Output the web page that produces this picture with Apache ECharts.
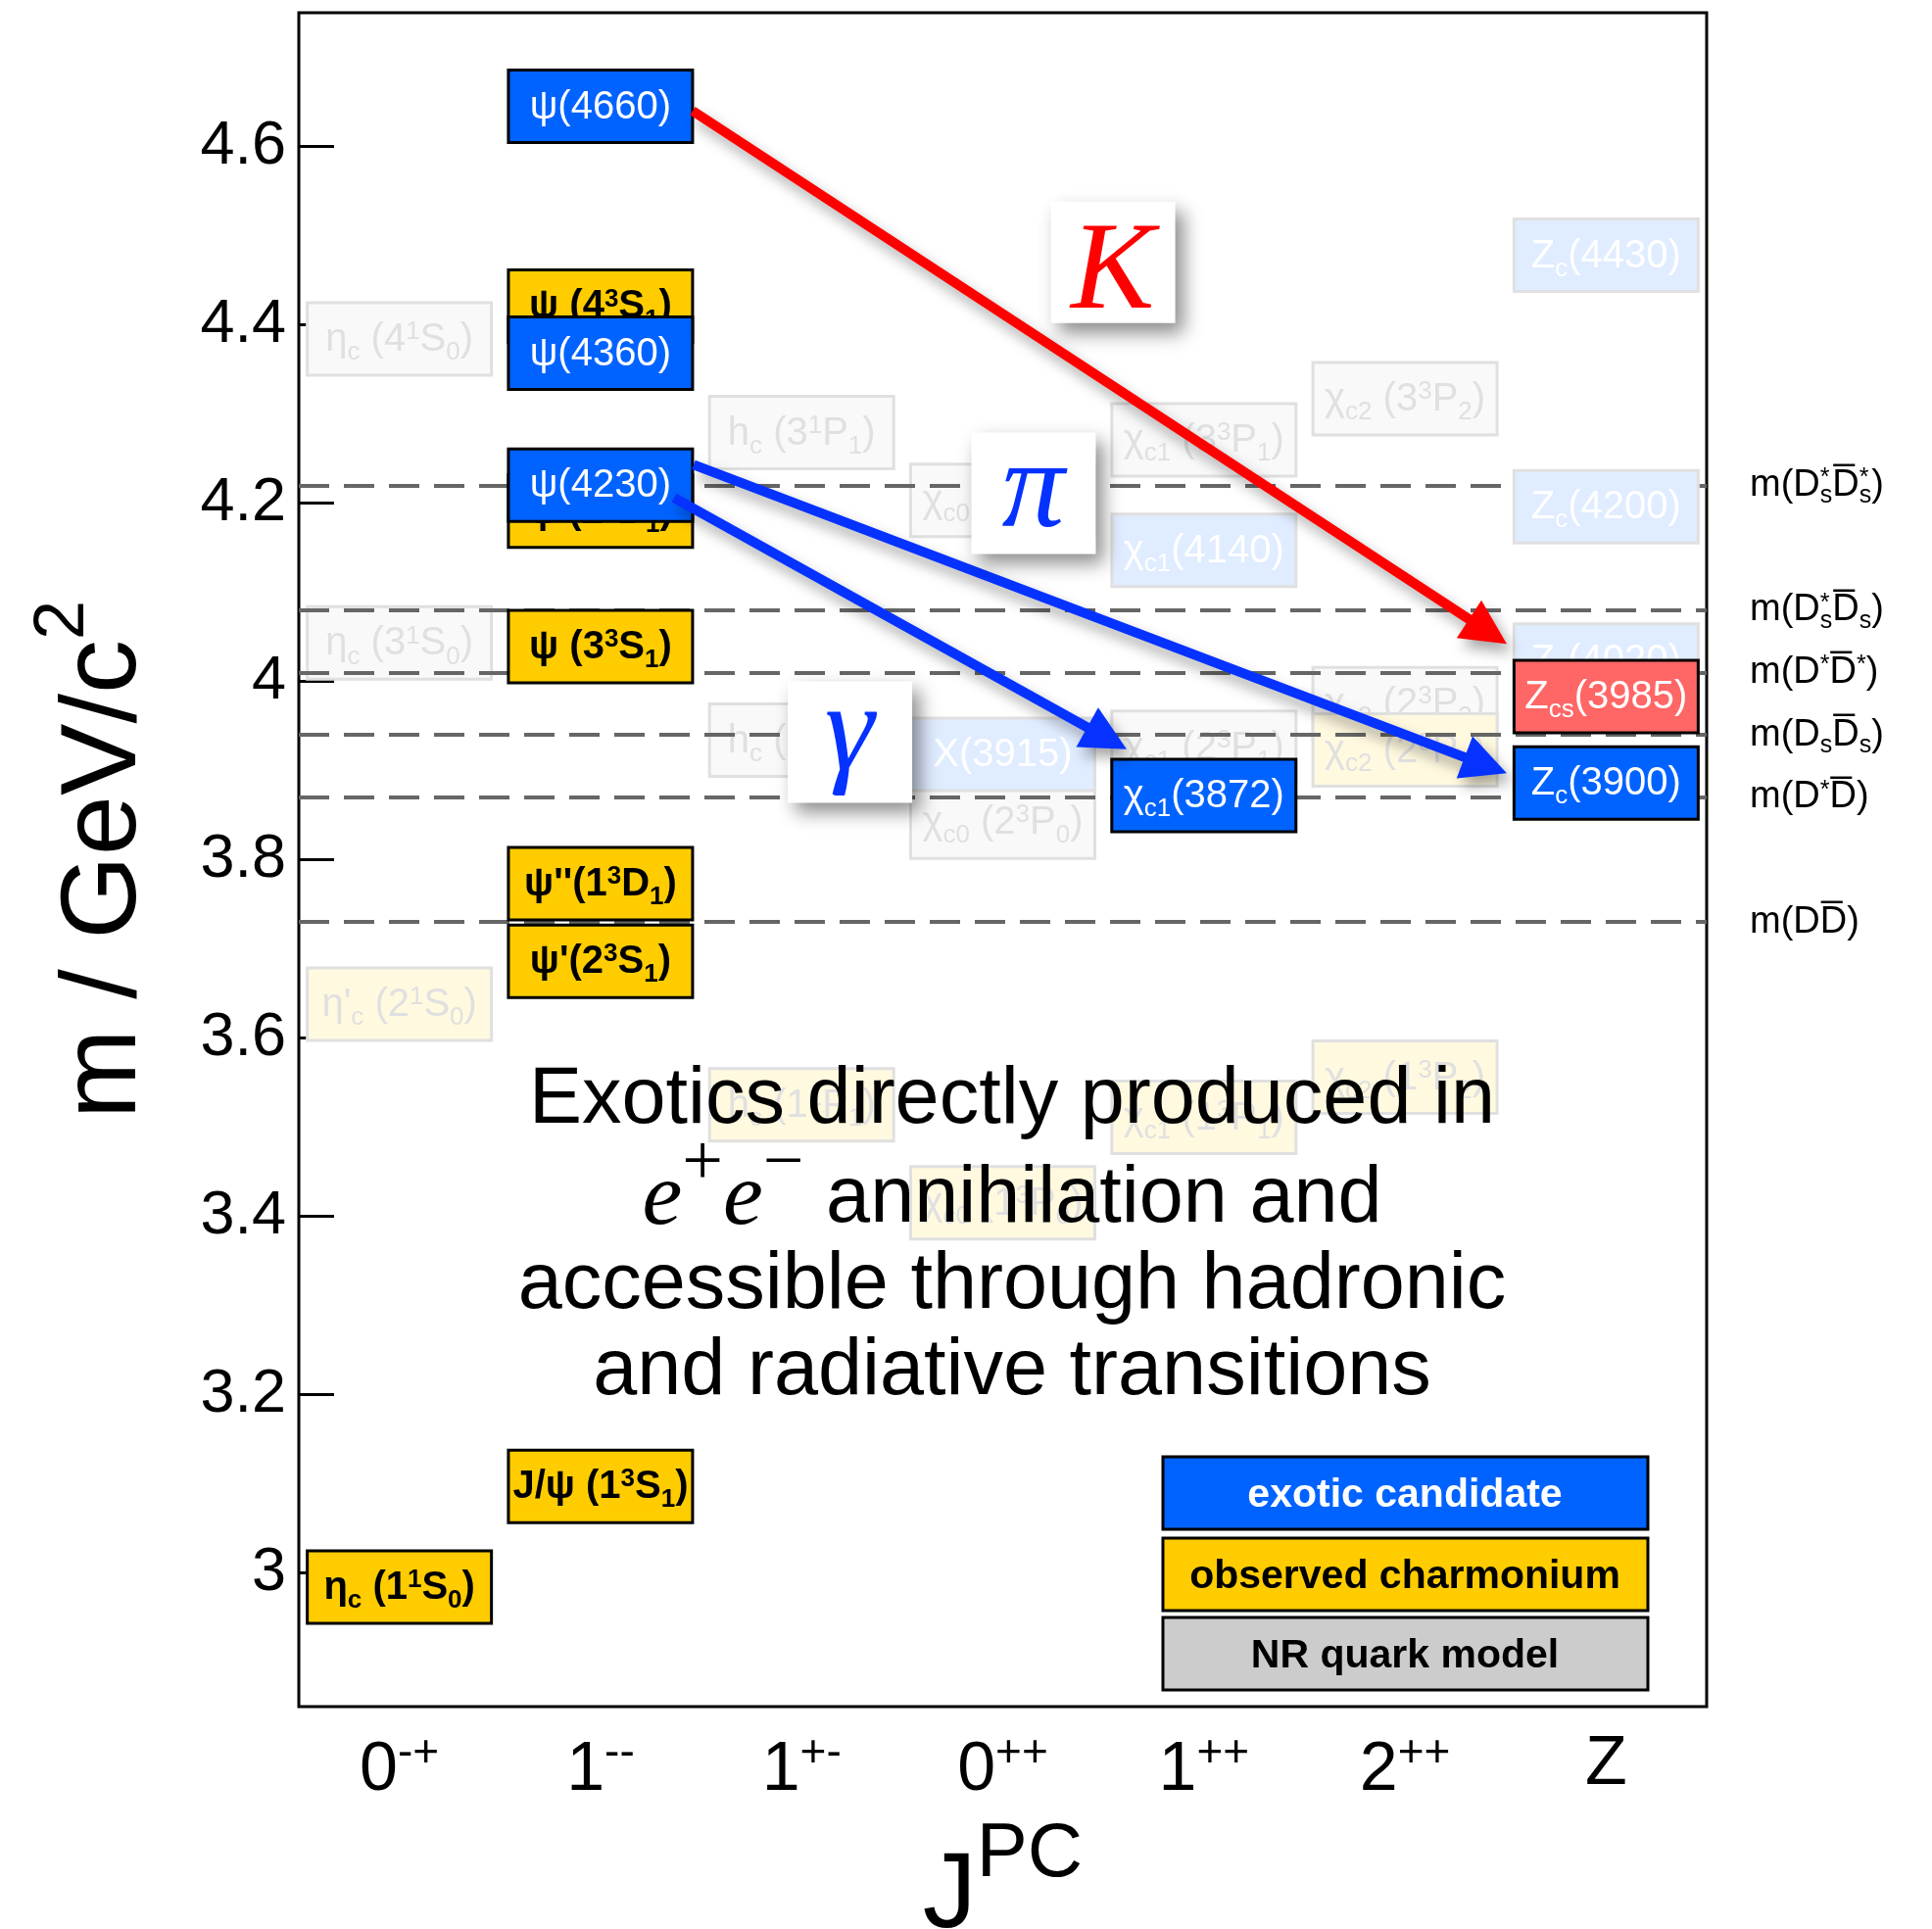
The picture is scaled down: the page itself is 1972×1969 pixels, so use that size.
<!DOCTYPE html>
<html>
<head>
<meta charset="utf-8">
<script src="https://cdn.jsdelivr.net/npm/echarts@6/dist/echarts.min.js"></script>
<style>
  html, body { margin: 0; padding: 0; background: #fff; }
  #chart { width: 1972px; height: 1969px; }
</style>
</head>
<body>
<div id="chart"></div>
<script>
// ---- data -------------------------------------------------------------
// J^PC columns of the spectrum
const columns = ['0-+', '1--', '1+-', '0++', '1++', '2++', 'Z'];
const columnLabels = ['0{sp|-+}', '1{sp|--}', '1{sp|+-}', '0{sp|++}', '1{sp|++}', '2{sp|++}', 'Z'];
const massTicks = [3, 3.2, 3.4, 3.6, 3.8, 4, 4.2, 4.4, 4.6];

// states: [J^PC column, mass in GeV, name]  ("_{..}" subscript, "^{..}" superscript)
const exoticStates = [
  ['1--', 4.645, 'ψ(4660)'],
  ['1--', 4.368, 'ψ(4360)'],
  ['1--', 4.220, 'ψ(4230)'],
  ['1++', 3.872, 'χ_{c1}(3872)'],
  ['Z',   3.886, 'Z_{c}(3900)']
];
const strangeStates = [
  ['Z', 3.983, 'Z_{cs}(3985)']
];
const observedStates = [
  ['0-+', 2.984, 'η_{c} (1^{1}S_{0})'],
  ['1--', 3.097, 'J/ψ (1^{3}S_{1})'],
  ['1--', 3.686, "ψ'(2^{3}S_{1})"],
  ['1--', 3.773, "ψ''(1^{3}D_{1})"],
  ['1--', 4.039, 'ψ (3^{3}S_{1})'],
  ['1--', 4.191, 'ψ (2^{3}D_{1})'],
  ['1--', 4.421, 'ψ (4^{3}S_{1})']
];
// states not reached directly from e+e- (drawn faded)
const fadedObserved = [
  ['0-+', 3.638, "η'_{c} (2^{1}S_{0})"],
  ['1+-', 3.525, 'h_{c} (1^{1}P_{1})'],
  ['0++', 3.415, 'χ_{c0} (1^{3}P_{0})'],
  ['1++', 3.511, 'χ_{c1} (1^{3}P_{1})'],
  ['2++', 3.556, 'χ_{c2} (1^{3}P_{2})'],
  ['2++', 3.923, 'χ_{c2} (2^{3}P_{2})']
];
const fadedExotic = [
  ['0++', 3.918, 'X(3915)'],
  ['1++', 4.147, 'χ_{c1}(4140)'],
  ['Z',   4.478, 'Z_{c}(4430)'],
  ['Z',   4.196, 'Z_{c}(4200)'],
  ['Z',   4.024, 'Z_{c}(4020)']
];
const modelStates = [
  ['0-+', 4.384, 'η_{c} (4^{1}S_{0})'],
  ['0-+', 4.043, 'η_{c} (3^{1}S_{0})'],
  ['1+-', 4.279, 'h_{c} (3^{1}P_{1})'],
  ['1+-', 3.934, 'h_{c} (2^{1}P_{1})'],
  ['0++', 4.203, 'χ_{c0} (3^{3}P_{0})'],
  ['0++', 3.842, 'χ_{c0} (2^{3}P_{0})'],
  ['1++', 4.271, 'χ_{c1} (3^{3}P_{1})'],
  ['1++', 3.926, 'χ_{c1} (2^{3}P_{1})'],
  ['2++', 4.317, 'χ_{c2} (3^{3}P_{2})'],
  ['2++', 3.975, 'χ_{c2} (2^{3}P_{2})']
];

// open-charm thresholds
const thresholdMasses = [3.7297, 3.8718, 3.9367, 4.0137, 4.0803, 4.2242];
const thresholdNames = [
  'm(DD\u0305)',
  'm(D^{*}D\u0305)',
  'm(D_{s}D\u0305_{s})',
  'm(D^{*}D\u0305^{*})',
  'm(D^{*}_{s}D\u0305_{s})',
  'm(D^{*}_{s}D\u0305^{*}_{s})'
];

// transitions: start / end points in (column, mass)
const transitionFrom = [[1.458, 4.640], [1.463, 4.243], [1.366, 4.206]];
const transitionTo   = [[5.506, 4.042], [5.506, 3.897], [3.616, 3.924]];
const mesonTags = ['K', 'π', 'γ'];
const tagPositions = [[3.546, 4.470], [3.151, 4.211], [2.238, 3.932]];

const noteLines = [
  'Exotics directly produced in',
  '{e|e}{sp|+}{e|e}{sp|\u2212} annihilation and',
  'accessible through hadronic',
  'and radiative transitions'
];
const legendNames = ['exotic candidate', 'observed charmonium', 'NR quark model'];

// ---- styling helpers --------------------------------------------------
const FONT = '"Liberation Sans", Arial, Helvetica, sans-serif';
const SERIF = '"Liberation Serif", "Times New Roman", serif';
const BLUE = '#0063ff', YELLOW = '#ffcc00', RED_BOX = '#ff6666', GREY = '#cccccc';
const ARROW_RED = '#ff0000', ARROW_BLUE = '#0532ff';
const FADE = 0.12;

function fade(hex, a) {
  const n = parseInt(hex.slice(1), 16);
  const ch = [(n >> 16) & 255, (n >> 8) & 255, n & 255].map(c => Math.round(255 - a * (255 - c)));
  return 'rgb(' + ch.join(',') + ')';
}

// "_{x}" / "^{x}" markup -> ECharts rich text; a superscript followed by a subscript is stacked
function toRich(label) {
  const re = /([_^])\{([^}]*)\}/g;
  const parts = [];
  let last = 0, m;
  while ((m = re.exec(label))) {
    if (m.index > last) parts.push(['b', label.slice(last, m.index)]);
    parts.push([m[1] === '^' ? 'sp' : 'sb', m[2]]);
    last = re.lastIndex;
  }
  if (last < label.length) parts.push(['b', label.slice(last)]);
  return parts.map((p, i) => {
    let st = p[0];
    if (st === 'sp' && parts[i + 1] && parts[i + 1][0] === 'sb') st = 'spz';
    return '{' + st + '|' + p[1] + '}';
  }).join('');
}

function richSet(size, small, color, weight, lift, drop) {
  const base = { fontFamily: FONT, fontWeight: weight, fill: color, color: color };
  return {
    b:   Object.assign({}, base, { fontSize: size }),
    sp:  Object.assign({}, base, { fontSize: small, padding: [0, 0, lift, 0] }),
    spz: Object.assign({}, base, { fontSize: small, padding: [0, 0, lift, 0], width: 0 }),
    sb:  Object.assign({}, base, { fontSize: small, padding: [drop, 0, 0, 0] })
  };
}

function stateSeries(name, states, fill, textColor, weight, faded, z) {
  const boxFill = faded ? fade(fill, FADE) : fill;
  const stroke = faded ? fade('#000000', FADE) : '#000000';
  const txt = faded && textColor !== '#ffffff' ? fade(textColor, FADE) : textColor;
  const rich = richSet(40, 26, txt, weight, 16, 26);
  return {
    type: 'custom',
    name: name,
    xAxisIndex: 1,
    yAxisIndex: 0,
    z: z,
    silent: true,
    data: states.map(s => [columns.indexOf(s[0]), s[1]]),
    renderItem: function (params, api) {
      const c = api.coord([api.value(0), api.value(1)]);
      const i = params.dataIndex;
      return {
        type: 'group',
        children: [
          { type: 'rect', z2: 2 * i,
            shape: { x: c[0] - 94, y: c[1] - 37, width: 188, height: 74 },
            style: { fill: boxFill, stroke: stroke, lineWidth: 3 } },
          { type: 'text', z2: 2 * i + 1, x: c[0], y: c[1] + 1,
            style: { text: toRich(states[i][2]), rich: rich, fill: txt,
                     fontSize: 40, fontFamily: FONT, fontWeight: weight,
                     align: 'center', verticalAlign: 'middle' } }
        ]
      };
    }
  };
}

const shadow = { shadowBlur: 14, shadowOffsetX: 6, shadowOffsetY: 9, shadowColor: 'rgba(0,0,0,0.35)' };
const transitionColors = [ARROW_RED, ARROW_BLUE, ARROW_BLUE];
const tagColors = [ARROW_RED, ARROW_BLUE, ARROW_BLUE];
const tagGlyphShift = [13, 0, -6];   // optical centring of the italic glyphs

const chart = echarts.init(document.getElementById('chart'), null, { renderer: 'canvas' });

const option = {
  backgroundColor: '#ffffff',
  animation: false,
  textStyle: { fontFamily: FONT },
  grid: {
    left: 305, right: 230, top: 13, bottom: 227,
    show: true, borderColor: '#000', borderWidth: 3, backgroundColor: 'transparent',
    outerBoundsMode: 'none'
  },
  xAxis: [
    {
      type: 'category',
      data: columns,
      axisLine: { show: false, onZero: false },
      axisTick: { show: false },
      splitLine: { show: false },
      axisLabel: {
        interval: 0,
        formatter: (v, i) => columnLabels[i],
        margin: 25,
        fontSize: 70,
        fontFamily: FONT,
        color: '#000',
        rich: { sp: { fontSize: 46, fontFamily: FONT, color: '#000', padding: [0, 0, 36, 0] } }
      },
      name: 'J{sp|PC}',
      nameLocation: 'middle',
      nameGap: 112,
      nameTextStyle: {
        fontSize: 110, fontFamily: FONT, color: '#000',
        rich: { sp: { fontSize: 78, fontFamily: FONT, color: '#000', padding: [0, 0, 88, 0] } }
      }
    },
    { type: 'value', min: -0.5, max: 6.5, show: false, axisLine: { onZero: false } }
  ],
  yAxis: {
    type: 'value',
    min: 2.85,
    max: 4.75,
    axisLine: { show: false, onZero: false },
    splitLine: { show: false },
    axisTick: {
      show: true, inside: true, length: 36, customValues: massTicks,
      lineStyle: { color: '#000', width: 3 }
    },
    axisLabel: {
      customValues: massTicks, margin: 13, fontSize: 63, fontFamily: FONT, color: '#000',
      padding: [8, 0, 0, 0]
    },
    name: 'm / GeV/c{sp|2}',
    nameLocation: 'middle',
    nameRotate: 90,
    nameGap: 118,
    nameTextStyle: {
      fontSize: 110, fontFamily: FONT, color: '#000',
      rich: { sp: { fontSize: 72, fontFamily: FONT, color: '#000', padding: [0, 0, 86, 0] } }
    }
  },
  series: [
    {
      type: 'line',
      name: 'thresholds',
      xAxisIndex: 1,
      yAxisIndex: 0,
      data: [],
      z: 2,
      silent: true,
      markLine: {
        silent: true,
        symbol: 'none',
        animation: false,
        lineStyle: { color: '#666', width: 4, type: [31, 15] },
        label: {
          show: true,
          position: 'end',
          distance: 44,
          fontSize: 38,
          fontFamily: FONT,
          color: '#000',
          rich: richSet(38, 25, '#000', 'normal', 14, 22)
        },
        data: thresholdMasses.map((m, i) => ({
          yAxis: m,
          label: { formatter: toRich(thresholdNames[i]) }
        }))
      }
    },
    stateSeries('NR quark model', modelStates, GREY, '#000000', 'normal', true, 3),
    stateSeries('observed (faded)', fadedObserved, YELLOW, '#000000', 'normal', true, 4),
    stateSeries('exotic (faded)', fadedExotic, BLUE, '#ffffff', 'normal', true, 5),
    stateSeries('observed charmonium', observedStates, YELLOW, '#000000', 'bold', false, 6),
    stateSeries('exotic candidate', exoticStates, BLUE, '#ffffff', 'normal', false, 7),
    stateSeries('exotic candidate (cs)', strangeStates, RED_BOX, '#ffffff', 'normal', false, 8),
    {
      type: 'custom',
      name: 'transitions',
      xAxisIndex: 1,
      yAxisIndex: 0,
      z: 9,
      silent: true,
      data: transitionFrom.map((f, i) => [f[0], f[1], transitionTo[i][0], transitionTo[i][1]]),
      renderItem: function (params, api) {
        const p0 = api.coord([api.value(0), api.value(1)]);
        const p1 = api.coord([api.value(2), api.value(3)]);
        const dx = p1[0] - p0[0], dy = p1[1] - p0[1], len = Math.hypot(dx, dy);
        const ux = dx / len, uy = dy / len, nx = -uy, ny = ux;
        const L = 46, W = 23;
        const bx = p1[0] - ux * L, by = p1[1] - uy * L;
        const color = transitionColors[params.dataIndex];
        return {
          type: 'group',
          children: [
            { type: 'line', shape: { x1: p0[0], y1: p0[1], x2: bx + ux * 4, y2: by + uy * 4 },
              style: Object.assign({ stroke: color, lineWidth: 10 }, shadow) },
            { type: 'polygon',
              shape: { points: [[p1[0], p1[1]], [bx + nx * W, by + ny * W], [bx - nx * W, by - ny * W]] },
              style: Object.assign({ fill: color }, shadow) }
          ]
        };
      }
    },
    {
      type: 'custom',
      name: 'mesons',
      xAxisIndex: 1,
      yAxisIndex: 0,
      z: 10,
      silent: true,
      data: tagPositions,
      renderItem: function (params, api) {
        const c = api.coord([api.value(0), api.value(1)]);
        const i = params.dataIndex;
        return {
          type: 'group',
          children: [
            { type: 'rect', shape: { x: c[0] - 63, y: c[1] - 62, width: 127, height: 124 },
              style: { fill: '#ffffff', shadowBlur: 18, shadowOffsetX: 8, shadowOffsetY: 10,
                       shadowColor: 'rgba(0,0,0,0.45)' } },
            { type: 'text', x: c[0], y: c[1] + tagGlyphShift[i],
              style: { text: mesonTags[i], fill: tagColors[i], fontSize: 128, fontStyle: 'italic',
                       fontFamily: SERIF, align: 'center', verticalAlign: 'middle' } }
          ]
        };
      }
    }
  ],
  graphic: []
};

// annotation text block
const noteBaselines = [1152, 1253, 1341, 1429];
const noteRich = {
  e:  { fontSize: 92, fontFamily: SERIF, fontStyle: 'italic', fill: '#000' },
  sp: { fontSize: 74, fontFamily: SERIF, fill: '#000', padding: [0, 0, 70, 0] }
};
noteLines.forEach((t, i) => {
  option.graphic.push({
    type: 'text', z: 20, silent: true,
    x: 1033, y: noteBaselines[i] - 28,
    style: { text: t, rich: noteRich, fontSize: 81, fontFamily: FONT, fill: '#000',
             align: 'center', verticalAlign: 'middle' }
  });
});

// legend boxes
const legendFills = [BLUE, YELLOW, GREY];
const legendText = ['#ffffff', '#000000', '#000000'];
const legendTops = [1487, 1570, 1651];
legendNames.forEach((n, i) => {
  option.graphic.push({
    type: 'rect', z: 20, silent: true,
    shape: { x: 1187, y: legendTops[i], width: 495, height: 74 },
    style: { fill: legendFills[i], stroke: '#000', lineWidth: 3 }
  });
  option.graphic.push({
    type: 'text', z: 21, silent: true,
    x: 1434, y: legendTops[i] + 40,
    style: { text: n, fill: legendText[i], fontSize: 41, fontWeight: 'bold', fontFamily: FONT,
             align: 'center', verticalAlign: 'middle' }
  });
});

chart.setOption(option);
</script>
</body>
</html>
